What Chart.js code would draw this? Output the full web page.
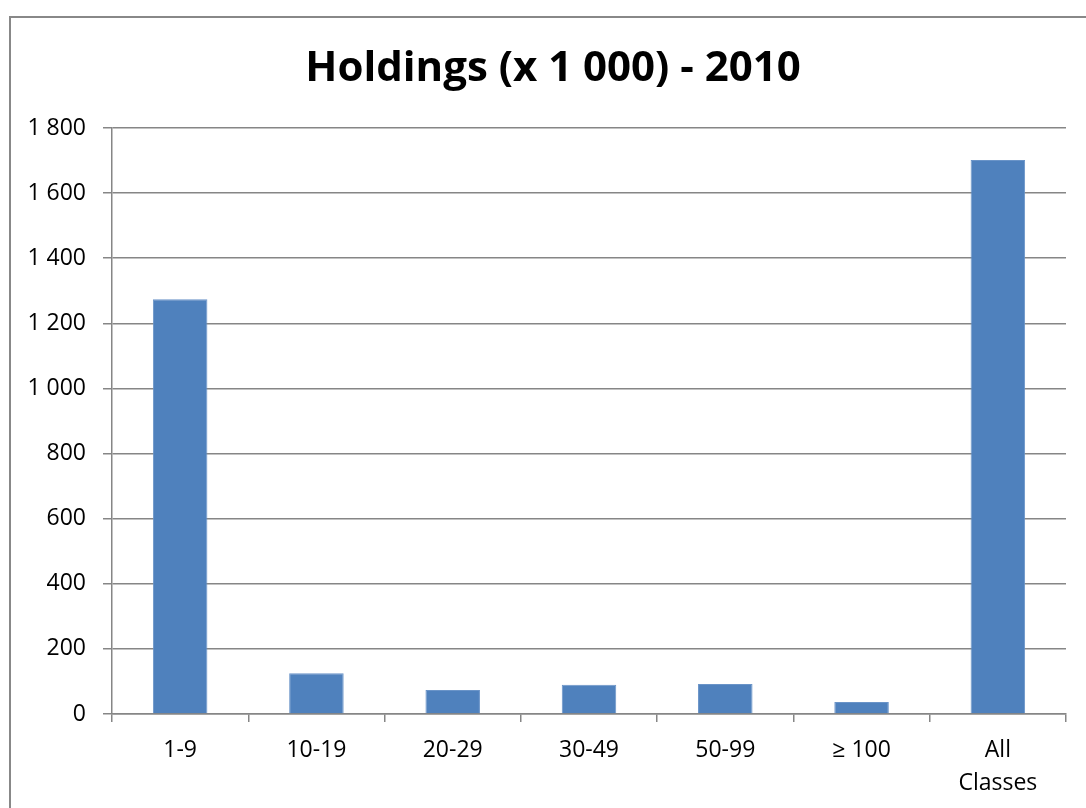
<!DOCTYPE html>
<html>
<head>
<meta charset="utf-8">
<script src="https://cdn.jsdelivr.net/npm/chart.js@4.4.0/dist/chart.umd.min.js"></script>
<style>
  html, body { margin: 0; padding: 0; background: #ffffff; }
  #wrap { width: 1086px; height: 808px; position: relative; }
</style>
</head>
<body>
<div id="wrap"><canvas id="c" width="1086" height="808"></canvas></div>
<script>
const categories = ['1-9', '10-19', '20-29', '30-49', '50-99', '\u2265 100', ['All', 'Classes']];
const holdings = [1274, 125, 74, 90, 92, 37, 1702];
const yTickLabels = ['0', '200', '400', '600', '800', '1 000', '1 200', '1 400', '1 600', '1 800'];
const chartTitle = 'Holdings (x 1 000) - 2010';

const frame = {
  id: 'frame',
  beforeDraw(chart) {
    const ctx = chart.ctx;
    ctx.save();
    ctx.fillStyle = '#ffffff';
    ctx.fillRect(0, 0, chart.width, chart.height);
    ctx.strokeStyle = '#888888';
    ctx.lineWidth = 2;
    ctx.strokeRect(10, 17, chart.width + 40, chart.height + 40);
    ctx.restore();
  }
};

new Chart(document.getElementById('c'), {
  type: 'bar',
  data: {
    labels: categories,
    datasets: [{
      data: holdings,
      backgroundColor: '#4F81BD',
      borderColor: '#6a94c8',
      borderWidth: 1,
      categoryPercentage: 1.0,
      barPercentage: 0.4
    }]
  },
  options: {
    responsive: false,
    animation: false,
    layout: { padding: { left: 20, right: 0, top: 0, bottom: 0 } },
    plugins: {
      legend: { display: false },
      tooltip: { enabled: false },
      title: {
        display: true,
        text: chartTitle,
        color: '#000000',
        font: { family: 'Open Sans', size: 42, weight: 'bold', lineHeight: 1.2 },
        padding: { top: 44, bottom: 33.6 }
      }
    },
    scales: {
      x: {
        offset: true,
        grid: { display: true, drawOnChartArea: false, drawTicks: true, tickLength: 8, color: '#868686', lineWidth: 1.5, offset: true },
        border: { display: true, color: '#868686', width: 1.5 },
        ticks: { color: '#000000', font: { family: 'Open Sans', size: 23, lineHeight: 1.43 }, padding: 12, maxRotation: 0, autoSkip: false },
        afterFit(scale) { scale.height = 94; }
      },
      y: {
        min: 0,
        max: 1800,
        ticks: {
          stepSize: 200,
          color: '#000000',
          font: { family: 'Open Sans', size: 23 },
          padding: 17,
          callback: (v, i) => yTickLabels[i]
        },
        grid: { color: '#868686', lineWidth: 1.5, tickLength: 9, drawTicks: true },
        border: { display: true, color: '#868686', width: 1.5 },
        afterFit(scale) { scale.width = 92; }
      },
      yPad: {
        position: 'right',
        display: true,
        grid: { display: false, drawTicks: false },
        border: { display: false },
        ticks: { display: false },
        afterFit(scale) { scale.width = 20; }
      }
    }
  },
  plugins: [frame]
});
</script>
</body>
</html>
